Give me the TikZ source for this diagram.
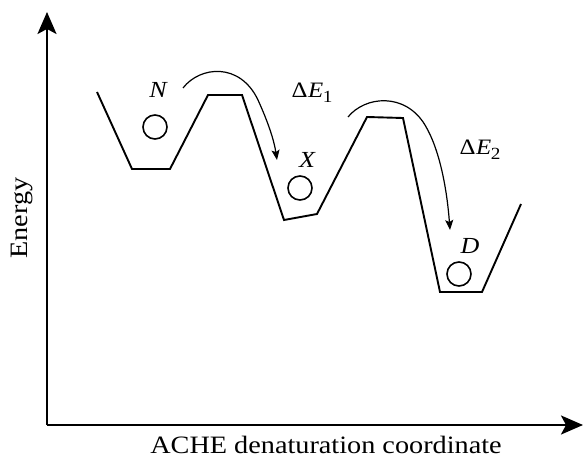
\documentclass[tikz,border=0pt]{standalone}
\usepackage{fontspec}
\setmainfont{Liberation Serif}[FakeStretch=1.13]
\usetikzlibrary{arrows.meta}
\newcommand{\dE}[1]{Δ\kern0.5pt\textit{E}\kern-0.5pt\raisebox{-0.22em}{\fontsize{17}{20}\selectfont #1}}
\begin{document}
\begin{tikzpicture}[x=1pt,y=-1pt,
  land/.style={line width=1.9pt,line join=miter},
  axisline/.style={line width=2.4pt,-{Stealth[length=22pt,width=19pt,inset=5pt]}},
  hop/.style={line width=1.2pt,-{Stealth[length=10pt,width=8pt,inset=2pt]}},
  ball/.style={circle,draw,line width=1.6pt,minimum size=24pt,inner sep=0pt},
  lbl/.style={font=\fontsize{23}{26}\selectfont\itshape,inner sep=0pt},
  elbl/.style={font=\fontsize{22}{26}\selectfont,inner sep=0pt}]
\useasboundingbox (0,0) rectangle (583,462);
% axes
\coordinate (O) at (47,425);
\coordinate (ytop) at (47,12);
\coordinate (xend) at (583,425);
\draw[axisline] (O) -- (ytop);
\draw[axisline] (O) -- (xend);
\node[font=\fontsize{25}{28}\selectfont,anchor=base] (xlab) at (326,453) {ACHE denaturation coordinate};
\node[font=\fontsize{25}{28}\selectfont,rotate=90] (ylab) at (22,218) {Energy};
% landscape
\coordinate (p0) at (97,92);
\coordinate (p1) at (132,169);
\coordinate (p2) at (170,169);
\coordinate (p3) at (208,95);
\coordinate (p4) at (242,95);
\coordinate (p5) at (284,220);
\coordinate (p6) at (317,214);
\coordinate (p7) at (367,117);
\coordinate (p8) at (403,118);
\coordinate (p9) at (440,292);
\coordinate (p10) at (482,292);
\coordinate (p11) at (521,204);
\draw[land] (p0) -- (p1) -- (p2) -- (p3) -- (p4) -- (p5) -- (p6) -- (p7) -- (p8) -- (p9) -- (p10) -- (p11);
% balls
\node[ball] (bN) at (155,127) {};
\node[ball] (bX) at (300,188) {};
\node[ball] (bD) at (459,274) {};
% labels
\node[lbl] (N) at (158,90) {N};
\node[lbl] (X) at (307,160) {X};
\node[lbl] (D) at (470,246) {D};
\node[elbl] (E1) at (312,93) {\dE{1}};
\node[elbl] (E2) at (480,150) {\dE{2}};
% hops
\coordinate (a1s) at (183,88);
\coordinate (a1m) at (258,100);
\coordinate (a1e) at (277,160);
\draw[hop] (a1s) .. controls (200,66) and (240,62) .. (a1m) .. controls (268,122) and (274,140) .. (a1e);
\coordinate (a2s) at (348,117);
\coordinate (a2m) at (425,125);
\coordinate (a2e) at (450,230);
\draw[hop] (a2s) .. controls (365,96) and (405,92) .. (a2m) .. controls (440,150) and (447,190) .. (a2e);
\end{tikzpicture}
\end{document}
